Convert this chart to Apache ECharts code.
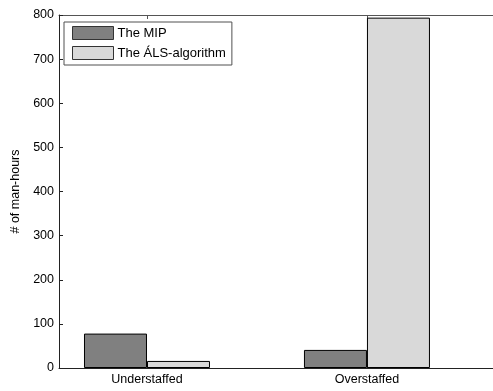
<!DOCTYPE html>
<html>
<head>
<meta charset="utf-8">
<script src="https://cdn.jsdelivr.net/npm/echarts@6/dist/echarts.min.js"></script>
<style>
html,body{margin:0;padding:0;background:#fff;}
#c{width:493px;height:391px;}
</style>
</head>
<body>
<div id="c"></div>
<script>
const categories = ['Understaffed', 'Overstaffed'];
const mipValues = [78, 41];
const alsValues = [16, 794];
const yTicks = [0, 100, 200, 300, 400, 500, 600, 700, 800];
const seriesNames = ['The MIP', 'The ÁLS-algorithm'];

const positions = categories.map((c, i) => i + 1);
const font = 'Liberation Sans, Arial, sans-serif';
const xMin = 0.6, xMax = 2.573;

const chart = echarts.init(document.getElementById('c'));
chart.setOption({
  animation: false,
  backgroundColor: '#fff',
  grid: { left: 59, top: 15, bottom: 23, right: 0 },
  legend: {
    orient: 'vertical',
    left: 64, top: 22,
    padding: [4, 6, 5, 8],
    icon: 'rect',
    itemWidth: 41, itemHeight: 13, itemGap: 6,
    itemStyle: { borderWidth: 1, borderColor: '#333' },
    borderColor: '#505050', borderWidth: 1,
    backgroundColor: '#fff',
    textStyle: { fontFamily: font, fontSize: 13, color: '#000', padding: [0, 0, 0, -1] },
    data: seriesNames
  },
  xAxis: [{
    type: 'value', min: xMin, max: xMax,
    axisLine: { show: true, lineStyle: { color: '#222', width: 1 } },
    splitLine: { show: false },
    axisTick: { show: true, inside: true, length: 4, customValues: positions, lineStyle: { color: '#222' } },
    axisLabel: { customValues: positions, margin: 5, fontFamily: font, fontSize: 12.5, color: '#000',
      formatter: v => categories[Math.round(v) - 1] || '' }
  }, {
    type: 'value', min: xMin, max: xMax, position: 'top',
    axisLine: { show: true, onZero: false, lineStyle: { color: '#555', width: 1 } },
    splitLine: { show: false },
    axisTick: { show: true, inside: true, length: 4, customValues: positions, lineStyle: { color: '#555' } },
    axisLabel: { show: false }
  }],
  yAxis: {
    type: 'value', min: 0, max: 800, interval: 100,
    name: '# of man-hours', nameLocation: 'middle', nameGap: 34,
    nameTextStyle: { fontFamily: font, fontSize: 12.5, color: '#000' },
    axisLine: { show: true, lineStyle: { color: '#222' } },
    splitLine: { show: false },
    axisTick: { show: true, inside: true, length: 4, lineStyle: { color: '#222' } },
    axisLabel: { margin: 5, fontFamily: font, fontSize: 12.5, color: '#000',
      formatter: v => yTicks.includes(v) ? String(v) : '' }
  },
  series: [{
    name: seriesNames[0], type: 'bar', xAxisIndex: 0,
    barWidth: 63, barGap: '0%',
    itemStyle: { color: '#808080', borderColor: '#000', borderWidth: 1 },
    data: positions.map((p, i) => [p, mipValues[i]])
  }, {
    name: seriesNames[1], type: 'bar', xAxisIndex: 0,
    barWidth: 63, barGap: '0%',
    itemStyle: { color: '#d9d9d9', borderColor: '#000', borderWidth: 1 },
    data: positions.map((p, i) => [p, alsValues[i]])
  }]
});
</script>
</body>
</html>
